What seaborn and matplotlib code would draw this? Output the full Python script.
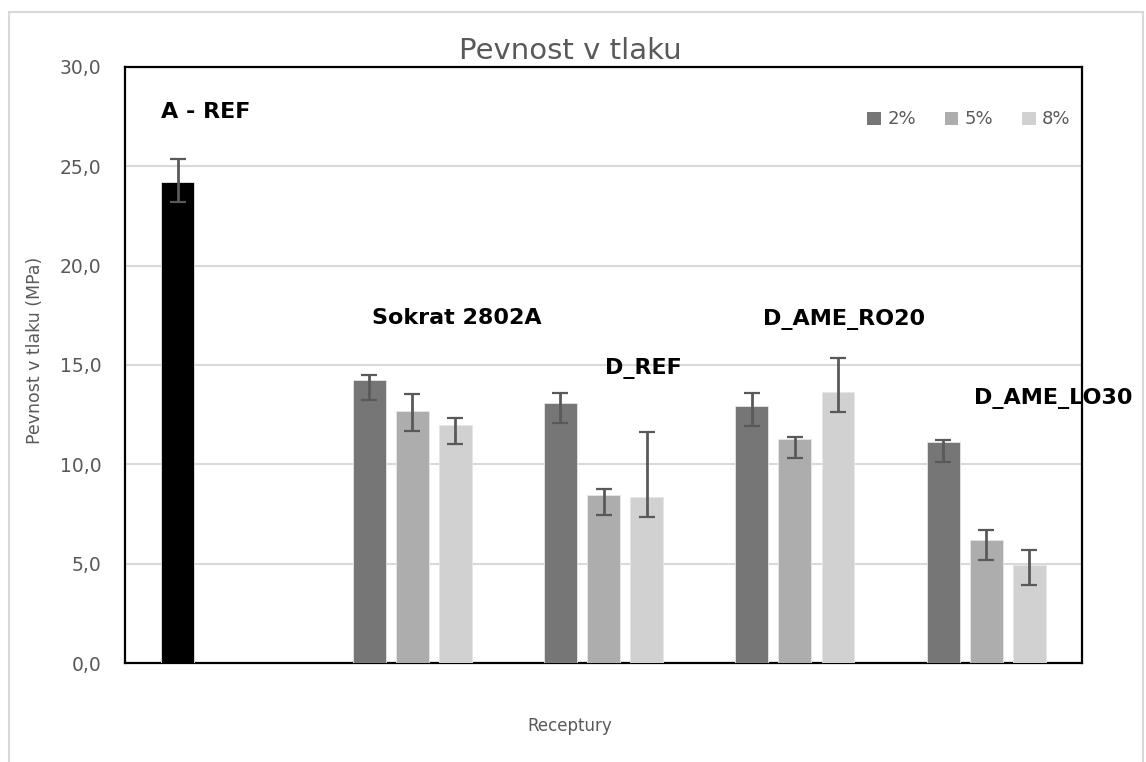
import numpy as np
import pandas as pd
import matplotlib
matplotlib.use("Agg")
import matplotlib.pyplot as plt
import seaborn as sns
from matplotlib.patches import Rectangle, Patch

# Recipes (categories) and additive levels
recipes = ["A - REF", "Sokrat 2802A", "D_REF", "D_AME_RO20", "D_AME_LO30"]
levels = ["2%", "5%", "8%"]

# Compressive strength (MPa); A - REF has a single reference value
strength_2 = [24.2, 14.25, 13.1, 12.95, 11.1]
strength_5 = [np.nan, 12.7, 8.45, 11.3, 6.2]
strength_8 = [np.nan, 12.0, 8.35, 13.65, 4.95]

# Error bar extents (upper / lower)
err_up_2 = [1.15, 0.25, 0.5, 0.65, 0.15]
err_up_5 = [np.nan, 0.85, 0.3, 0.1, 0.5]
err_up_8 = [np.nan, 0.35, 3.3, 1.7, 0.75]
err_lo = 1.0

yticks = [0, 5, 10, 15, 20, 25, 30]

sns.set_theme(style="white")
plt.rcParams["font.family"] = ["DejaVu Sans"]

rows = []
for i, r in enumerate(recipes):
    for lvl, vals in zip(levels, [strength_2, strength_5, strength_8]):
        if not np.isnan(vals[i]):
            rows.append({"Receptura": r, "Podíl": lvl, "MPa": vals[i]})
df = pd.DataFrame(rows)

colors = {"2%": "#767676", "5%": "#adadad", "8%": "#d1d1d1"}
grey_text = "#595959"

fig = plt.figure(figsize=(11.46, 7.62), dpi=100)
ax = fig.add_axes([0.1091, 0.1299, 0.8351, 0.7822])

sns.barplot(data=df, x="Receptura", y="MPa", hue="Podíl", order=recipes,
            hue_order=levels, palette=colors, width=0.675, gap=0.235,
            errorbar=None, legend=False, ax=ax, zorder=3,
            edgecolor="#e6e6e6", linewidth=0.6)

# error bars placed at each drawn bar
ups = {"2%": err_up_2, "5%": err_up_5, "8%": err_up_8}
for lvl, cont in zip(levels, ax.containers):
    for bar in cont:
        xc = bar.get_x() + bar.get_width() / 2
        i = int(round(xc))
        v = bar.get_height()
        ax.errorbar(xc, v, yerr=[[err_lo], [ups[lvl][i]]], fmt="none",
                    ecolor=grey_text, elinewidth=2, capsize=6, capthick=1.6,
                    zorder=4)
        if i == 0:
            # reference bar in black
            bar.set_facecolor("black")

ax.set_xlim(-0.5, 4.5)
ax.set_ylim(0, 30)
ax.set_yticks(yticks)
ax.set_yticklabels([f"{t:.1f}".replace(".", ",") for t in yticks],
                   fontsize=13.5, color=grey_text)
ax.set_xticks([])
ax.tick_params(axis="y", length=0, pad=17)
ax.yaxis.grid(True, color="#d9d9d9", linewidth=1.5, zorder=0)
ax.set_axisbelow(True)
for s in ax.spines.values():
    s.set_visible(True)
    s.set_color("black")
    s.set_linewidth(1.6)
ax.set_xlabel("")
ax.set_ylabel("")

fig.text(0.4975, 0.9226, "Pevnost v tlaku", fontsize=21, color=grey_text,
         ha="center", va="baseline")
fig.text(0.497, 0.0472, "Receptury", fontsize=12, color=grey_text,
         ha="center", va="center")
fig.text(0.0305, 0.5407, "Pevnost v tlaku (MPa)", fontsize=12.5,
         color=grey_text, ha="center", va="center", rotation=90)

# recipe names written inside the plot
label_pos = [(-0.079, 27.73), (1.235, 17.36), (2.209, 14.8),
             (3.257, 17.31), (4.351, 13.29)]
for name, (xp, yp) in zip(recipes, label_pos):
    ax.text(xp, yp, name, ha="center", va="center", fontsize=16,
            fontweight="bold", color="black", zorder=5, clip_on=False)

handles = [Patch(facecolor=colors[l], edgecolor="none") for l in levels]
ax.legend(handles, levels, loc="center right", ncol=3, frameon=False,
          fontsize=13, handlelength=0.75, handleheight=0.75, columnspacing=1.6,
          handletextpad=0.35, bbox_to_anchor=(1.005, 0.912),
          labelcolor=grey_text)

fig.patches.append(Rectangle((0.008, -0.01), 0.9895, 0.994,
                             transform=fig.transFigure, fill=False,
                             edgecolor="#d9d9d9", linewidth=1.5))

fig.savefig("out.png", dpi=100, facecolor="white")
